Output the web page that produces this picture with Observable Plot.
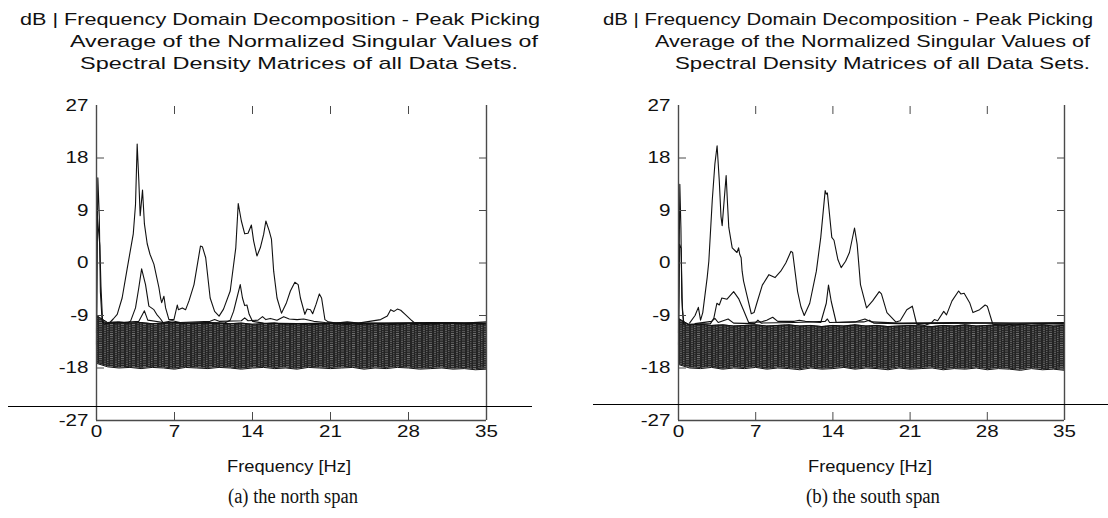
<!DOCTYPE html>
<html><head><meta charset="utf-8">
<script src="https://cdn.jsdelivr.net/npm/d3@7"></script>
<script src="https://cdn.jsdelivr.net/npm/@observablehq/plot@0.6"></script>
<style>
body{margin:0;background:#fff;}
#root{position:relative;width:1108px;height:518px;overflow:hidden;font-family:"Liberation Sans",Arial,sans-serif;}
.t{position:absolute;white-space:nowrap;color:#111;transform-origin:0 50%;line-height:1;}
.cap{font-family:"Liberation Serif","Times New Roman",serif;}
.hline{position:absolute;height:1.2px;background:#000;}
.pl{position:absolute;top:80px;}
</style></head><body><div id="root"></div>
<script>
// ---- tick values ----
const yTicks = [-27, -18, -9, 0, 9, 18, 27];
const yInner = [-18, -9, 0, 9, 18];
const xTicks = [0, 7, 14, 21, 28, 35];
const xInner = [7, 14, 21, 28];

// ---- texts ----
const titleLines = ["dB | Frequency Domain Decomposition - Peak Picking",
  "Average of the Normalized Singular Values of",
  "Spectral Density Matrices of all Data Sets."];
const xLabel = "Frequency [Hz]";
const captions = ["(a) the north span", "(b) the south span"];

// ---- noise band (envelope of the many singular-value lines), dB ----
const bandFreq = [0,1,2,3,4,5,6,7,8,9,10,11,12,13,14,15,16,17,18,19,20,21,22,23,24,25,26,27,28,29,30,31,32,33,34,35];
const northUpper = [-9.0,-10.2,-10.1,-10.3,-10.2,-10.4,-10.3,-10.2,-10.4,-10.3,-10.2,-10.3,-10.4,-10.3,-10.5,-10.4,-10.3,-10.5,-10.4,-10.6,-10.5,-10.4,-10.5,-10.6,-10.5,-10.4,-10.6,-10.5,-10.4,-10.6,-10.5,-10.4,-10.3,-10.5,-10.4,-10.5];
const northLower = [-17.2,-17.8,-18.0,-17.9,-18.1,-17.9,-18.0,-18.2,-17.9,-18.0,-18.1,-17.9,-18.0,-18.2,-18.0,-17.9,-18.1,-18.0,-18.2,-17.9,-18.0,-18.1,-18.0,-17.9,-18.2,-18.0,-18.1,-17.9,-18.0,-18.2,-18.1,-18.0,-18.2,-18.1,-18.3,-18.2];
const southUpper = [-9.5,-10.6,-10.5,-10.7,-10.6,-10.8,-10.7,-10.6,-10.8,-10.7,-10.6,-10.8,-10.7,-10.9,-10.7,-10.8,-10.6,-10.8,-10.7,-10.9,-10.8,-10.7,-10.8,-10.9,-10.7,-10.8,-10.6,-10.8,-10.7,-10.6,-10.8,-10.5,-10.7,-10.6,-10.8,-10.7];
const southLower = [-17.4,-18.0,-18.1,-17.9,-18.2,-18.0,-18.1,-17.9,-18.2,-18.0,-18.1,-18.3,-18.0,-18.2,-18.1,-17.9,-18.2,-18.0,-18.1,-18.3,-18.0,-18.2,-18.1,-18.0,-18.3,-18.1,-18.2,-18.0,-18.3,-18.1,-18.2,-18.4,-18.1,-18.3,-18.2,-18.4];

// ---- north span curves [Hz, dB] ----
const northFirst = [[1.2,-10.2],[1.5,-9.6],[1.86,-8.8],[2.3,-6.0],[2.75,-1.0],[3.3,5.0],[3.5,10],[3.65,20.4],[3.8,14],[3.92,8.1],[4.13,12.5],[4.3,6.7],[4.55,3.3],[4.8,1.5],[5.15,-0.2],[5.6,-4.2],[5.75,-6.0],[5.85,-6.8],[6.05,-5.7],[6.2,-7.7],[6.5,-9.7],[6.95,-9.7],[7.25,-7.2],[7.35,-8.0],[7.7,-7.7],[8.0,-8.0],[8.3,-6.5],[8.75,-3.7],[9.33,2.9],[9.5,2.8],[9.8,0.9],[10.2,-6.0],[10.6,-8.3],[11.0,-9.1],[11.4,-7.9],[12.0,-4.8],[12.5,2.6],[12.72,10.2],[13.0,7.2],[13.3,5.0],[13.6,5.1],[13.9,6.5],[14.1,3.8],[14.4,1.2],[14.7,2.6],[15.0,4.9],[15.2,7.2],[15.5,5.5],[15.7,4.1],[15.9,-1.4],[16.2,-6.0],[16.6,-8.6],[17.05,-6.8],[17.4,-4.8],[17.8,-3.3],[18.1,-3.7],[18.3,-6.0],[18.7,-8.8],[18.9,-7.9],[19.2,-8.0],[19.4,-8.7],[19.7,-7.1],[20.0,-5.3],[20.2,-6.0],[20.5,-9.7],[20.8,-10.1],[21.5,-10.3],[22.5,-10.1],[23.5,-10.3],[24.5,-10.0],[25.5,-9.7],[26.1,-9.1],[26.4,-8.0],[26.7,-8.3],[27.0,-7.9],[27.3,-8.1],[27.7,-8.8],[28.2,-9.7],[28.5,-10.2],[29.5,-10.4],[31,-10.2],[33,-10.3],[35,-10.1]];
const northSecond = [[0.8,-10.4],[2.0,-10.2],[2.8,-10.3],[3.05,-10.0],[3.5,-7.7],[3.8,-4.2],[4.05,-1.0],[4.4,-3.7],[4.7,-7.4],[5.15,-8.0],[5.4,-8.8],[5.75,-9.6],[6.0,-10.3],[7,-10.2],[9,-10.3],[11.5,-10.3],[12.0,-9.8],[12.3,-8.3],[12.6,-6.0],[12.9,-3.7],[13.1,-6.0],[13.3,-7.3],[13.5,-7.2],[13.7,-8.8],[14.0,-10.0],[15,-10.3],[18,-10.4],[22,-10.3],[26,-10.4],[30,-10.3],[35,-10.4]];
const northThird = [[1.5,-10.3],[3.8,-10.0],[4.3,-8.2],[4.6,-9.8],[6.0,-10.2],[6.8,-9.9],[7.5,-10.2],[10.2,-10.0],[10.6,-9.7],[11.0,-10.0],[13.0,-9.9],[13.3,-9.4],[13.6,-9.9],[14.5,-9.8],[14.9,-9.2],[15.2,-9.7],[15.6,-9.5],[16.2,-9.8],[16.8,-9.2],[17.3,-9.6],[18.0,-9.7],[18.6,-9.6],[19.5,-10.0],[20.5,-10.2],[24,-10.3],[30,-10.2],[35,-10.3]];
const northSpikeA = [[0,-12],[0.12,14.6],[0.25,8],[0.35,-5],[0.5,-9.8],[0.7,-10.5]];
const northSpikeB = [[0,-14],[0.05,8.5],[0.3,3.0],[0.4,-4],[0.55,-10.2]];

// ---- south span curves [Hz, dB] ----
const southFirst = [[1.0,-10.3],[1.5,-9.0],[1.8,-7.6],[2.0,-9.8],[2.2,-8.5],[2.6,-2.5],[2.75,0.3],[3.06,10.7],[3.3,17],[3.5,20.1],[3.7,14],[3.85,8],[3.96,6.4],[4.15,11],[4.32,15.0],[4.45,10],[4.56,6.1],[4.87,2.6],[5.3,1.8],[5.45,2.6],[5.55,1.5],[5.68,0.9],[5.77,-1.4],[5.9,-3.1],[6.2,-5.5],[6.6,-8.7],[6.85,-8.5],[7.1,-6.9],[7.6,-3.8],[8.2,-2.0],[8.75,-2.5],[9.27,-1.4],[9.73,0.0],[10.2,2.0],[10.35,1.8],[10.8,-4.9],[11.1,-7.5],[11.4,-9.0],[11.9,-6.9],[12.5,-1.4],[12.9,4.4],[13.3,12.4],[13.4,11.8],[13.5,12.0],[13.9,4.4],[14.1,3.9],[14.45,0.6],[14.75,-0.8],[15.15,0.3],[15.5,1.8],[15.96,6.0],[16.2,3.2],[16.5,-3.7],[17.05,-7.7],[17.6,-6.5],[18.2,-4.9],[18.4,-5.3],[18.9,-8.5],[19.7,-10.1],[20.1,-9.9],[20.7,-8.0],[21.2,-7.4],[21.6,-10.5],[22.3,-10.7],[22.9,-10.3],[23.2,-9.7],[23.5,-9.9],[24.05,-8.3],[24.3,-8.9],[24.8,-6.5],[25.4,-4.8],[25.6,-5.3],[25.9,-5.2],[26.4,-6.8],[26.7,-8.5],[27.3,-8.0],[27.8,-7.2],[28.0,-7.4],[28.5,-10.5],[29.0,-10.6],[31,-10.5],[33,-10.4],[35,-10.5]];
const southSecond = [[0.8,-10.5],[2.9,-10.4],[3.2,-9.5],[3.48,-6.9],[3.7,-7.2],[3.93,-6.0],[4.4,-6.2],[5.0,-4.9],[5.45,-6.1],[5.9,-8.1],[6.36,-10.2],[7.5,-10.1],[8.0,-9.8],[8.54,-9.3],[9.0,-10.0],[10.5,-10.0],[10.95,-9.8],[11.5,-10.0],[12.9,-10.2],[13.4,-6.9],[13.6,-3.8],[13.85,-6.6],[14.3,-10.2],[16.0,-10.1],[16.9,-9.6],[17.5,-10.1],[20,-10.3],[25,-10.2],[30,-10.3],[35,-10.2]];
const southThird = [[1.5,-10.4],[3.0,-10.0],[3.3,-9.5],[3.6,-10.2],[4.5,-9.6],[5.0,-10.3],[6.9,-10.4],[7.2,-9.8],[7.5,-10.3],[10.5,-10.2],[13.3,-10.0],[13.5,-9.6],[13.7,-10.2],[16.8,-10.1],[17.3,-9.8],[17.7,-10.3],[20,-10.4],[28,-10.3],[35,-10.4]];
const southSpikeA = [[0,-12],[0.12,13.5],[0.22,6],[0.3,-6],[0.45,-10.3]];
const southSpikeB = [[0,-14],[0.1,3.2],[0.24,2.5],[0.35,-8],[0.5,-10.6]];

const root = document.getElementById("root");

function panel(upper, lower, curves, width, ml, mr, pid) {
  const band = bandFreq.map((f, i) => ({f, hi: upper[i], lo: lower[i]}));
  const ink = "#111";
  const frame = "#4a4a4a";
  const fmt = d => `${d}`;
  const svg = Plot.plot({
    width, height: 370, marginLeft: ml, marginRight: mr, marginTop: 25, marginBottom: 30,
    x: {domain: [0, 35], axis: null},
    y: {domain: [-27, 27], axis: null},
    style: {fontFamily: "'Liberation Sans', Arial, sans-serif", color: ink, background: "transparent", overflow: "visible"},
    marks: [
      Plot.areaY(band, {x: "f", y1: "lo", y2: "hi", fill: `url(#${pid})`, curve: "linear"}),
      Plot.line(band, {x: "f", y: "hi", stroke: ink, strokeWidth: 1}),
      Plot.line(band, {x: "f", y: "lo", stroke: ink, strokeWidth: 1}),
      ...curves.map(c => Plot.line(c, {x: d => d[0], y: d => d[1], stroke: ink, strokeWidth: 1.1})),
      Plot.ruleX([0, 35], {stroke: frame, strokeWidth: 1.4}),
      Plot.ruleY([-27], {stroke: frame, strokeWidth: 1.4}),
      Plot.axisY(yTicks, {anchor: "left", tickSize: 0, tickPadding: 8, fontSize: 16.5, label: null, tickFormat: fmt}),
      Plot.axisY(yInner, {anchor: "left", tickSize: -8, tickFormat: () => "", label: null, stroke: frame}),
      Plot.axisY(yInner, {anchor: "right", tickSize: -8, tickFormat: () => "", label: null, stroke: frame}),
      Plot.axisX(xTicks, {anchor: "bottom", tickSize: 0, tickPadding: 5, fontSize: 16.5, label: null, tickFormat: fmt}),
      Plot.axisX(xInner, {anchor: "bottom", tickSize: -8, tickFormat: () => "", label: null, stroke: frame}),
      Plot.axisX(xInner, {anchor: "top", tickSize: -8, tickFormat: () => "", label: null, stroke: frame})
    ]
  });
  const ns = "http://www.w3.org/2000/svg";
  const defs = document.createElementNS(ns, "defs");
  defs.innerHTML = `<pattern id="${pid}" patternUnits="userSpaceOnUse" width="11" height="2.2">`
    + `<rect width="11" height="2.2" fill="#242424"/>`
    + `<rect x="0" y="0.2" width="3" height="0.6" fill="#9a9a9a"/>`
    + `<rect x="5" y="1.3" width="2" height="0.6" fill="#8a8a8a"/>`
    + `<rect x="8" y="0.6" width="1.5" height="0.5" fill="#b0b0b0"/>`
    + `</pattern>`;
  svg.insertBefore(defs, svg.firstChild);
  return svg;
}

const left = panel(northUpper, northLower, [northSpikeA, northSpikeB, northThird, northSecond, northFirst], 554, 96, 68, "bpN");
left.classList.add("pl"); left.style.left = "0px";
root.appendChild(left);
const right = panel(southUpper, southLower, [southSpikeA, southSpikeB, southThird, southSecond, southFirst], 554, 124, 44, "bpS");
right.classList.add("pl"); right.style.left = "554px";
root.appendChild(right);

// stretch tick labels horizontally like the (widened) original figure
for (const svg of [left, right]) {
  svg.querySelectorAll("text").forEach(t => {
    if (t.textContent.trim() === "") return;
    const L = t.getComputedTextLength();
    t.setAttribute("textLength", (L * 1.25).toFixed(1));
    t.setAttribute("lengthAdjust", "spacingAndGlyphs");
  });
}

// figure border lines
function hline(x, y, w) {
  const d = document.createElement("div");
  d.className = "hline";
  d.style.left = x + "px"; d.style.top = y + "px"; d.style.width = w + "px";
  root.appendChild(d);
}
hline(8, 405.5, 524);
hline(593, 403.5, 515);

function label(str, x, w, cy, fs, cls) {
  const s = document.createElement("div");
  s.className = "t" + (cls ? " " + cls : "");
  s.textContent = str;
  s.style.fontSize = fs + "px";
  root.appendChild(s);
  const nat = s.getBoundingClientRect().width;
  const h = s.getBoundingClientRect().height;
  s.style.left = x + "px";
  s.style.top = (cy - h / 2) + "px";
  s.style.transform = `scaleX(${w / nat})`;
}
label(titleLines[0], 20, 520, 19, 17, "");
label(titleLines[1], 70, 468, 41, 17, "");
label(titleLines[2], 80, 438, 63, 17, "");
label(titleLines[0], 603, 490, 19, 17, "");
label(titleLines[1], 655, 435, 41, 17, "");
label(titleLines[2], 675, 415, 63, 17, "");
label(xLabel, 227, 124, 466, 17, "");
label(xLabel, 808, 124, 466, 17, "");
label(captions[0], 228, 130, 496, 20, "cap");
label(captions[1], 806, 134, 496, 20, "cap");
</script></body></html>
